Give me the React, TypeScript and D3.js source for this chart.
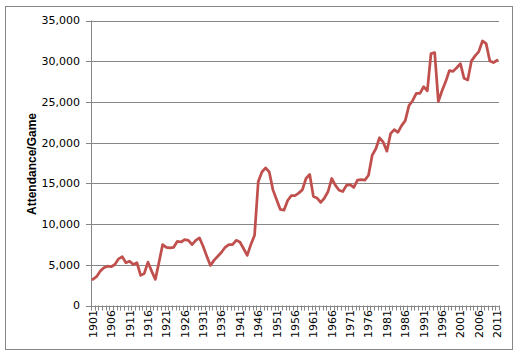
import React from "react";
import * as d3 from "d3";

const years: number[] = d3.range(1901, 2012);
const attendance: number[] = [
  3210, 3540, 4220, 4630, 4830, 4760, 5040, 5730, 5980, 5250,
  5440, 5040, 5250, 3700, 3940, 5320, 4220, 3210, 5320, 7480,
  7150, 7080, 7150, 7880, 7800, 8090, 8000, 7480, 8000, 8300,
  7270, 6050, 4920, 5570, 6050, 6540, 7150, 7480, 7480, 8000,
  7800, 7000, 6150, 7500, 8630, 15200, 16400, 16900, 16400, 14200,
  13000, 11800, 11700, 12900, 13500, 13500, 13800, 14200, 15600, 16100,
  13400, 13200, 12650, 13200, 14000, 15600, 14750, 14150, 14000, 14750,
  14850, 14500, 15400, 15450, 15400, 16000, 18450, 19250, 20600, 20050,
  18950, 21100, 21600, 21270, 22090, 22700, 24540, 25150, 26050, 26050,
  26860, 26370, 30930, 31050, 25060, 26370, 27500, 28850, 28750, 29200,
  29700, 27900, 27700, 30040, 30650, 31180, 32490, 32160, 30040, 29830,
  30120,
];
const yTicks: number[] = [0, 5000, 10000, 15000, 20000, 25000, 30000, 35000];
const yTitle = "Attendance/Game";

export default function App() {
  const W = 519, H = 360;
  const left = 91, right = 499, top = 20.5, bottom = 305.5;
  const x = d3.scaleBand<number>().domain(years).range([left, right]).paddingInner(0).paddingOuter(0);
  const y = d3.scaleLinear().domain([0, 35000]).range([bottom, top]);
  const line = d3.line<number>()
    .x((_, i) => (x(years[i]) as number) + x.bandwidth() / 2)
    .y((d) => y(d))
    .curve(d3.curveLinear);
  const fmt = d3.format(",");
  const font = "'DejaVu Sans', Verdana, sans-serif";
  const boundaries = d3.range(0, years.length + 1).map((i) => left + i * x.bandwidth());

  return (
    <div style={{ position: "absolute", left: 0, top: 0 }}>
      <svg width={W} height={H} style={{ display: "block", background: "#fff" }}>
        <rect x={5.5} y={6.5} width={507} height={343} fill="#fff" stroke="#868686" strokeWidth={1} />
        {yTicks.map((t) => (
          <g key={t}>
            {t > 0 && (
              <line x1={left} x2={right} y1={Math.round(y(t)) + 0.5} y2={Math.round(y(t)) + 0.5} stroke="#868686" strokeWidth={1} />
            )}
            <line x1={left - 5} x2={left} y1={Math.round(y(t)) + 0.5} y2={Math.round(y(t)) + 0.5} stroke="#868686" strokeWidth={1} />
            <text x={80} y={y(t)} dy="0.36em" textAnchor="end" fontFamily={font} fontSize={11} fill="#000">
              {fmt(t)}
            </text>
          </g>
        ))}
        <line x1={left + 0.5} x2={left + 0.5} y1={top} y2={bottom + 0.5} stroke="#868686" strokeWidth={1} />
        <line x1={left} x2={right} y1={Math.round(bottom) + 0.5} y2={Math.round(bottom) + 0.5} stroke="#868686" strokeWidth={1} />
        {boundaries.map((bx, i) => (
          <line key={i} x1={Math.round(bx) + 0.5} x2={Math.round(bx) + 0.5} y1={bottom} y2={bottom + 5} stroke="#868686" strokeWidth={1} />
        ))}
        {years.filter((yr) => (yr - 1901) % 5 === 0).map((yr) => {
          const cx = (x(yr) as number) + x.bandwidth() / 2;
          return (
            <text key={yr} transform={`translate(${cx},${310}) rotate(-90)`} dy="0.36em" textAnchor="end" fontFamily={font} fontSize={11} fill="#000">
              {yr}
            </text>
          );
        })}
        <path d={line(attendance) || ""} fill="none" stroke="#C0504D" strokeWidth={2.75} strokeLinejoin="round" strokeLinecap="round" />
        <text transform={`translate(36,164) rotate(-90)`} textAnchor="middle" fontFamily="'Liberation Sans', Arial, sans-serif" fontWeight="bold" fontSize={12} fill="#000">
          {yTitle}
        </text>
      </svg>
    </div>
  );
}
